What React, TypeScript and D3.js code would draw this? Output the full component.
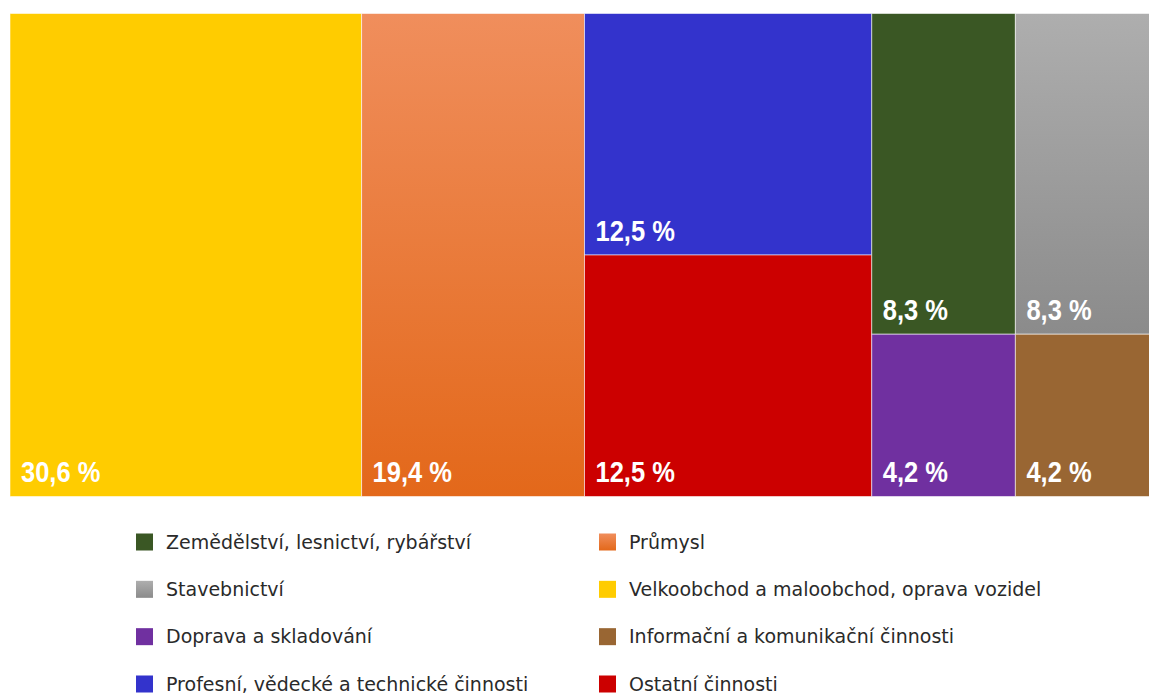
import React from 'react'
import * as d3 from 'd3'

const width = 1149
const height = 695
const box = { left: 10, top: 13.5, right: 1159, bottom: 496.5 }

// legend order (row by row, two columns)
const categories = [
	'Zemědělství, lesnictví, rybářství',
	'Průmysl',
	'Stavebnictví',
	'Velkoobchod a maloobchod, oprava vozidel',
	'Doprava a skladování',
	'Informační a komunikační činnosti',
	'Profesní, vědecké a technické činnosti',
	'Ostatní činnosti',
]
const shares = [8.3, 19.4, 8.3, 30.6, 4.2, 4.2, 12.5, 12.5]
// column of the treemap each category sits in, top to bottom inside a column
const columnOf = [3, 1, 4, 0, 3, 4, 2, 2]
const columnCount = 5

const colors = ['#3a5724', '#f07f3c', '#a6a6a6', '#ffcc00', '#7030a0', '#996633', '#3333cc', '#cc0000']
const gradients: Record<number, [string, string]> = {
	1: ['#f08e5c', '#e3681a'],
	2: ['#aeaeae', '#8b8b8b'],
}

const fmt = (v: number) => `${v.toFixed(1).replace('.', ',')} %`

type Leaf = { name?: string; value?: number; idx?: number; children?: Leaf[] }

export default function App() {
	const rootData: Leaf = {
		children: d3.range(columnCount).map(c => ({
			children: categories
				.map((name, idx) => ({ name, idx, value: shares[idx] }))
				.filter(d => columnOf[d.idx] === c),
		})),
	}
	const root = d3.hierarchy<Leaf>(rootData).sum(d => d.value || 0)
	d3
		.treemap<Leaf>()
		.tile(d3.treemapSliceDice)
		.size([box.right - box.left, box.bottom - box.top])(root)
	const leaves = root.leaves() as d3.HierarchyRectangularNode<Leaf>[]

	const legendX = d3.scaleOrdinal<number, number>().domain([0, 1]).range([136, 599])
	const legendY = d3.scaleLinear().domain([0, 3]).range([542, 684])

	return (
		<svg width={width} height={height} style={{ position: 'absolute', left: 0, top: 0, background: '#fff' }}>
			<defs>
				{Object.entries(gradients).map(([i, [a, b]]) => (
					<linearGradient key={i} id={`grad${i}`} x1="0" y1="0" x2="0" y2="1">
						<stop offset="0%" stopColor={a} />
						<stop offset="100%" stopColor={b} />
					</linearGradient>
				))}
			</defs>
			<g transform={`translate(${box.left},${box.top})`}>
				{leaves.map(l => {
					const i = l.data.idx as number
					return (
						<rect
							key={i}
							x={l.x0}
							y={l.y0}
							width={l.x1 - l.x0}
							height={l.y1 - l.y0}
							fill={gradients[i] ? `url(#grad${i})` : colors[i]}
							stroke="rgba(255,255,255,0.55)"
							strokeWidth={1}
						/>
					)
				})}
				{leaves.map(l => {
					const i = l.data.idx as number
					return (
						<text
							key={'t' + i}
							transform={`translate(${l.x0 + 11},${l.y1 - 14.5}) scale(0.85,1)`}
							fill="#fff"
							fontFamily="'Liberation Sans', Arial, sans-serif"
							fontWeight="bold"
							fontSize={30}
						>
							{fmt(shares[i])}
						</text>
					)
				})}
			</g>
			<g fontFamily="'DejaVu Sans', Verdana, sans-serif" fontSize={19} fill="#2a2a2a">
				{categories.map((name, i) => {
					const x = legendX(i % 2)
					const y = legendY(Math.floor(i / 2))
					return (
						<g key={name} transform={`translate(${x},${y})`}>
							<rect x={0} y={-8.5} width={17} height={17} fill={gradients[i] ? `url(#grad${i})` : colors[i]} />
							<text x={30} y={6.5}>
								{name}
							</text>
						</g>
					)
				})}
			</g>
		</svg>
	)
}
